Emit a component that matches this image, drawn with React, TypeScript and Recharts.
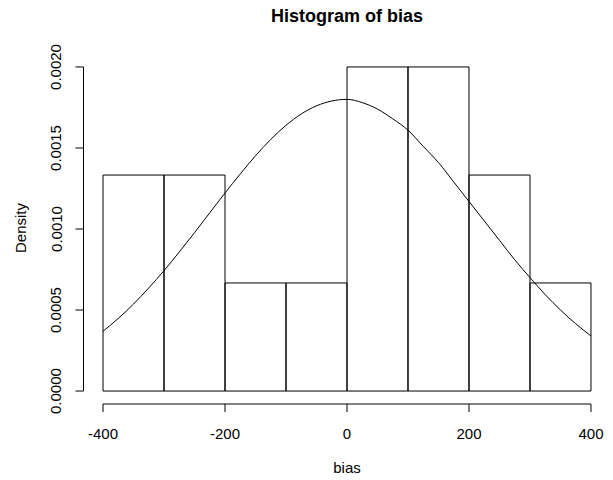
import {
  ComposedChart,
  Line,
  XAxis,
  YAxis,
  ReferenceArea,
  ReferenceLine,
} from "recharts";

// histogram bins (breaks) and their densities
const binBreaks = [-400, -300, -200, -100, 0, 100, 200, 300, 400];
const binDensity = [
  0.001333, 0.001333, 0.000667, 0.000667, 0.002, 0.002, 0.001333, 0.000667,
];

// fitted density curve
const curveX = [
  -400, -375, -350, -325, -300, -275, -250, -225, -200, -175, -150, -125, -100,
  -75, -50, -25, 0, 25, 50, 75, 100, 125, 150, 175, 200, 225, 250, 275, 300,
  325, 350, 375, 400,
];
const curveDensity = [
  0.000369, 0.000448, 0.000537, 0.000636, 0.000743, 0.000858, 0.000977,
  0.0011, 0.001222, 0.00134, 0.001452, 0.001553, 0.00164, 0.00171, 0.00176,
  0.00179, 0.0018, 0.00178, 0.00174, 0.00168, 0.00161, 0.00151, 0.00141,
  0.00129, 0.00117, 0.00105, 0.00093, 0.00081, 0.0007, 0.000595, 0.0005,
  0.000415, 0.00034,
];

const xTicks = [-400, -200, 0, 200, 400];
const yTicks = [0, 0.0005, 0.001, 0.0015, 0.002];

const FONT = "'Liberation Sans', Arial, Helvetica, sans-serif";

const curveData = curveX.map((x, i) => ({ x, density: curveDensity[i] }));

const bins = binDensity.map((d, i) => ({
  start: binBreaks[i],
  end: binBreaks[i + 1],
  density: d,
}));

// R extends axis ranges by 4% on each side
const xMin = -432;
const xMax = 432;
const yMin = -0.00008;
const yMax = 0.00208;

const YTick = (props: any) => {
  const { x, y, payload } = props;
  const tx = x - 12;
  return (
    <text
      x={tx}
      y={y}
      transform={`rotate(-90, ${tx}, ${y})`}
      textAnchor="middle"
      fontSize={15}
      fontFamily={FONT}
      fill="#000"
    >
      {Number(payload.value).toFixed(4)}
    </text>
  );
};

export default function App() {
  return (
    <div
      style={{
        position: "absolute",
        left: 0,
        top: 0,
        width: 613,
        height: 480,
        background: "#fff",
        fontFamily: FONT,
      }}
    >
      <ComposedChart
        width={613}
        height={480}
        data={curveData}
        margin={{ top: 54, right: 2.5, bottom: 26, left: 23.5 }}
      >
        <XAxis
          dataKey="x"
          type="number"
          domain={[xMin, xMax]}
          allowDataOverflow
          ticks={xTicks}
          interval={0}
          height={50}
          axisLine={false}
          tickLine={{ stroke: "#000" }}
          tickSize={8}
          tickMargin={16}
          tick={{ fill: "#000", fontSize: 15, fontFamily: FONT }}
        />
        <YAxis
          type="number"
          domain={[yMin, yMax]}
          allowDataOverflow
          ticks={yTicks}
          interval={0}
          width={60}
          axisLine={false}
          tickLine={{ stroke: "#000" }}
          tickSize={8}
          tick={<YTick />}
        />
        {bins.map((b, i) => (
          <ReferenceArea
            key={`bin-${i}`}
            x1={b.start}
            x2={b.end}
            y1={0}
            y2={b.density}
            fill="none"
            fillOpacity={0}
            stroke="#000"
            strokeWidth={1}
            ifOverflow="visible"
          />
        ))}
        <ReferenceLine
          segment={[
            { x: binBreaks[0], y: yMin },
            { x: binBreaks[binBreaks.length - 1], y: yMin },
          ]}
          stroke="#000"
          ifOverflow="visible"
        />
        <ReferenceLine
          segment={[
            { x: xMin, y: yTicks[0] },
            { x: xMin, y: yTicks[yTicks.length - 1] },
          ]}
          stroke="#000"
          ifOverflow="visible"
        />
        <Line
          dataKey="density"
          type="monotone"
          stroke="#000"
          strokeWidth={1}
          dot={false}
          isAnimationActive={false}
        />
      </ComposedChart>
      <svg
        width={613}
        height={480}
        style={{ position: "absolute", left: 0, top: 0, pointerEvents: "none" }}
      >
        <text
          x={347}
          y={22}
          textAnchor="middle"
          fontSize={18}
          fontWeight="bold"
          fontFamily={FONT}
          fill="#000"
        >
          Histogram of bias
        </text>
        <text
          x={347}
          y={473}
          textAnchor="middle"
          fontSize={15}
          fontFamily={FONT}
          fill="#000"
        >
          bias
        </text>
        <text
          x={25.5}
          y={228}
          transform="rotate(-90, 25.5, 228)"
          textAnchor="middle"
          fontSize={15}
          fontFamily={FONT}
          fill="#000"
        >
          Density
        </text>
      </svg>
    </div>
  );
}
